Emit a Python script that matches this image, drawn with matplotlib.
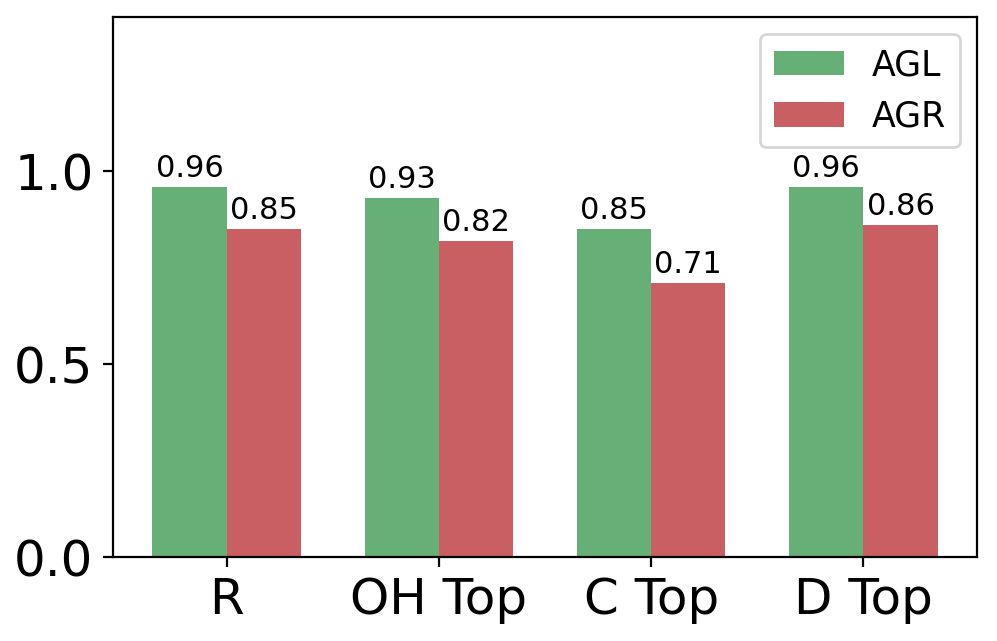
import numpy as np
import matplotlib
matplotlib.use("Agg")
import matplotlib.pyplot as plt

# data
categories = ["R", "OH Top", "C Top", "D Top"]
agl = [0.96, 0.93, 0.85, 0.96]
agr = [0.85, 0.82, 0.71, 0.86]

green = "#55a868"
red = "#c44e52"
width = 0.35

fig = plt.figure(figsize=(4.985, 3.205), dpi=200)
ax = fig.add_axes([0.1133, 0.131, 0.8667, 0.8425])

x = np.arange(len(categories))
b1 = ax.bar(x - width / 2, agl, width, color=green, alpha=0.9, label="AGL")
b2 = ax.bar(x + width / 2, agr, width, color=red, alpha=0.9, label="AGR")

# value labels on top of each bar
for bars in (b1, b2):
    for b in bars:
        h = b.get_height()
        ax.text(b.get_x() + b.get_width() / 2, h + 0.01, f"{h:.2f}",
                ha="center", va="bottom", fontsize=11)

ax.set_xticks(x)
ax.set_xticklabels(categories, fontsize=18)
ax.set_yticks([0.0, 0.5, 1.0])
ax.set_yticklabels(["0.0", "0.5", "1.0"], fontsize=18)
ax.set_ylim(0, 1.4)
ax.legend(loc="upper right", fontsize=12.5)

fig.savefig("out.png", dpi=200)
